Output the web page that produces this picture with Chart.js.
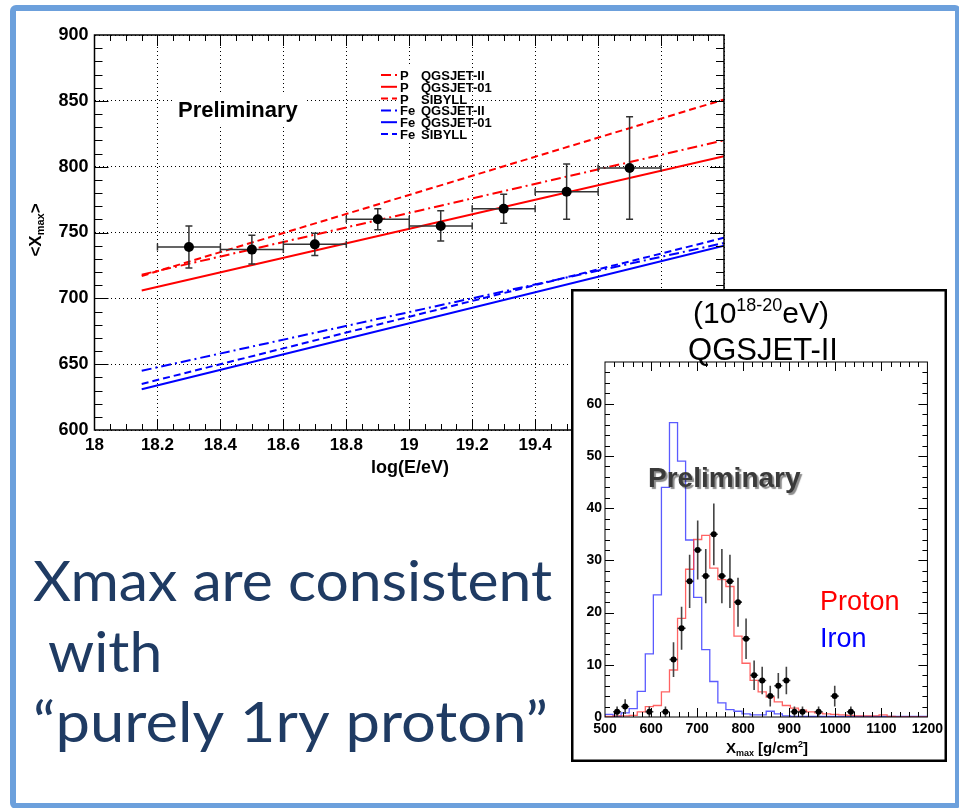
<!DOCTYPE html>
<html>
<head>
<meta charset="utf-8">
<title>Xmax</title>
<script src="https://cdn.jsdelivr.net/npm/chart.js@4.4.1/dist/chart.umd.min.js"></script>
<style>
  html, body { margin: 0; padding: 0; background: #fff; }
  #slide { position: relative; width: 959px; height: 808px; overflow: hidden; background: #fff; }
  #slide-border { position: absolute; left: 10px; top: 5px; width: 939px; height: 792px;
                  border: 6px solid #6ca0dc; border-radius: 6px; }
  canvas { position: absolute; }
  #xmax-trend { left: 0; top: 0; }
  #xmax-caption { left: 0; top: 530px; }
  #xmax-hist { left: 571px; top: 289px; background: #fff; }
  #hist-under { position: absolute; left: 677px; top: 760px; width: 207px; height: 2px; background: #444; }
</style>
</head>
<body>
<div id="slide">
  <canvas id="xmax-trend" width="959" height="808"></canvas>
  <canvas id="xmax-caption" width="575" height="250"></canvas>
  <div id="hist-under"></div>
  <canvas id="xmax-hist" width="376" height="473"></canvas>
  <div id="slide-border"></div>
</div>
<script>
(function () {
    'use strict';

    // <Xmax> per energy bin
    var energyBins = [18.3, 18.5, 18.7, 18.9, 19.1, 19.3, 19.5, 19.7];
    var energyHalfWidth = [0.1, 0.1, 0.1, 0.1, 0.1, 0.1, 0.1, 0.1];
    var meanXmax = [739, 737, 741, 760, 755, 768, 781, 799];
    var meanXmaxErr = [16, 11, 8.5, 8, 11.5, 11, 21, 39];

    // model expectations (end points of each line)
    var modelEnergy = [18.15, 20];
    var pQgsjet2 = [718, 820];
    var pQgsjet01 = [706, 808];
    var pSibyll = [717, 851];
    var feQgsjet2 = [645, 742];
    var feQgsjet01 = [631, 740];
    var feSibyll = [635, 746];

    var energyTicks = [18, 18.2, 18.4, 18.6, 18.8, 19, 19.2, 19.4, 19.6, 19.8, 20];
    var xmaxTicks = [600, 650, 700, 750, 800, 850, 900];

    // Xmax distribution, 40 bins from 500 to 1200 g/cm2
    var histLow = 500;
    var histBinWidth = 17.5;
    var protonHist = [0.1, 0.1, 0.2, 0.2, 0.3, 1.0, 2.0, 2.2, 4.8, 9.0,
                      18.9, 28.3, 34.0, 34.8, 28.5, 26.3, 25.0, 15.5, 10.3, 7.0,
                      4.8, 3.8, 2.9, 2.2, 1.7, 1.3, 1.0, 0.8, 0.6, 0.5,
                      0.4, 0.3, 0.2, 0.2, 0.2, 0.4, 0.1, 0, 0, 0];
    var ironHist = [0.5, 0.5, 0.1, 0.8, 1.6, 4.9, 12.1, 23.4, 44.0, 56.4,
                    49.0, 33.9, 22.9, 12.9, 6.8, 2.7, 1.4, 1.1, 0.6, 0.4,
                    0.4, 1.1, 0.6, 0.2, 0.1, 0.1, 0.1, 0.1, 0.1, 0.1,
                    0.1, 0.1, 0.1, 0.1, 0.1, 0.1, 0.1, 0.1, 0.1, 0.1];
    var eventCounts = [0, 1, 2, 0, 0, 1, 0, 1, 11, 17,
                       26, 32, 27, 35, 27, 26, 22, 15, 8, 7,
                       4, 6, 7, 1, 1, 0, 1, 0, 4, 0,
                       1, 0, 0, 0, 0, 0, 0, 0, 0, 0];
    var histTicksX = [500, 600, 700, 800, 900, 1000, 1100, 1200];
    var histTicksY = [0, 10, 20, 30, 40, 50, 60];

    var captionLines = ['Xmax are consistent', ' with', '\u201Cpurely 1ry proton\u201D'];

    var FONT = '"Liberation Sans", Arial, Helvetica, sans-serif';
    var DASH_DOT = [10, 4, 2, 4];
    var DASHED = [7, 4];

    function isMultiple(v, step) {
        var r = v / step;
        return Math.abs(r - Math.round(r)) < 1e-6;
    }

    function points(xs, ys) {
        return xs.map(function (x, i) { return { x: x, y: ys[i] }; });
    }

    // outline of a histogram, one point per bin edge
    function stepPoints(counts) {
        var pts = [{ x: histLow, y: 0 }];
        counts.forEach(function (c, i) {
            pts.push({ x: histLow + i * histBinWidth, y: c });
        });
        pts.push({ x: histLow + counts.length * histBinWidth, y: counts[counts.length - 1] });
        return pts;
    }

    function fixedTicks(values) {
        return function (scale) {
            scale.ticks = values.map(function (v) { return { value: v }; });
        };
    }

    // text with sub/superscript pieces
    function drawRich(ctx, parts, x, y, align, bold) {
        var total = 0;
        parts.forEach(function (p) {
            ctx.font = (bold ? 'bold ' : '') + p.size + 'px ' + FONT;
            p.w = ctx.measureText(p.text).width;
            total += p.w;
        });
        var cx = align === 'center' ? x - total / 2 : x;
        ctx.textAlign = 'left';
        ctx.textBaseline = 'alphabetic';
        parts.forEach(function (p) {
            ctx.font = (bold ? 'bold ' : '') + p.size + 'px ' + FONT;
            ctx.fillText(p.text, cx, y + (p.dy || 0));
            cx += p.w;
        });
    }

    // ROOT style frame: box plus inward ticks on all four sides
    function framePlugin(cfg) {
        return {
            id: 'rootFrame',
            afterDatasetsDraw: function (chart) {
                var ctx = chart.ctx, a = chart.chartArea;
                var xs = chart.scales.x, ys = chart.scales.y;
                var i, n, v, p, len;
                ctx.save();
                ctx.strokeStyle = '#000';
                ctx.lineWidth = 1;
                ctx.setLineDash([]);
                ctx.beginPath();
                n = Math.round((xs.max - xs.min) / cfg.xMinor);
                for (i = 1; i < n; i++) {
                    v = xs.min + i * cfg.xMinor;
                    p = Math.round(xs.getPixelForValue(v)) + 0.5;
                    len = isMultiple(v, cfg.xMajor) ? cfg.xMajorLen : cfg.xMinorLen;
                    ctx.moveTo(p, a.bottom);
                    ctx.lineTo(p, a.bottom - len);
                    ctx.moveTo(p, a.top);
                    ctx.lineTo(p, a.top + len);
                }
                n = Math.round((ys.max - ys.min) / cfg.yMinor);
                for (i = 1; i < n; i++) {
                    v = ys.min + i * cfg.yMinor;
                    p = Math.round(ys.getPixelForValue(v)) + 0.5;
                    len = isMultiple(v, cfg.yMajor) ? cfg.yMajorLen : cfg.yMinorLen;
                    ctx.moveTo(a.left, p);
                    ctx.lineTo(a.left + len, p);
                    ctx.moveTo(a.right, p);
                    ctx.lineTo(a.right - len, p);
                }
                ctx.stroke();
                ctx.lineWidth = cfg.frameWidth;
                ctx.strokeRect(a.left, a.top, a.right - a.left, a.bottom - a.top);
                ctx.restore();
            }
        };
    }

    function drawErrorBars(chart, xs, ys, xErr, yErr, style) {
        var ctx = chart.ctx;
        var sx = chart.scales.x, sy = chart.scales.y;
        ctx.save();
        ctx.strokeStyle = style.color;
        ctx.lineWidth = style.width;
        ctx.beginPath();
        xs.forEach(function (x, i) {
            var px = sx.getPixelForValue(x);
            var py = sy.getPixelForValue(ys[i]);
            var x0 = sx.getPixelForValue(x - xErr[i]);
            var x1 = sx.getPixelForValue(x + xErr[i]);
            var y0 = sy.getPixelForValue(ys[i] - yErr[i]);
            var y1 = sy.getPixelForValue(ys[i] + yErr[i]);
            ctx.moveTo(x0, py);
            ctx.lineTo(x1, py);
            ctx.moveTo(px, y0);
            ctx.lineTo(px, y1);
            if (style.cap) {
                ctx.moveTo(x0, py - style.cap);
                ctx.lineTo(x0, py + style.cap);
                ctx.moveTo(x1, py - style.cap);
                ctx.lineTo(x1, py + style.cap);
                ctx.moveTo(px - style.cap, y0);
                ctx.lineTo(px + style.cap, y0);
                ctx.moveTo(px - style.cap, y1);
                ctx.lineTo(px + style.cap, y1);
            }
        });
        ctx.stroke();
        ctx.restore();
    }

    /**
     * <Xmax> versus log(E/eV) with model lines
     */
    function initTrendChart() {
        var ctx = document.getElementById('xmax-trend').getContext('2d');

        var decor = {
            id: 'trendDecor',
            beforeDatasetDraw: function (chart, args) {
                if (args.index !== 0) return;
                drawErrorBars(chart, energyBins, meanXmax, energyHalfWidth, meanXmaxErr,
                              { color: '#333', width: 1.5, cap: 3.5 });
            },
            afterDraw: function (chart) {
                var c = chart.ctx;
                c.save();

                // Preliminary tag on a white patch
                c.fillStyle = '#fff';
                c.fillRect(172, 95, 132, 30);
                c.fillStyle = '#000';
                c.font = 'bold 22px ' + FONT;
                c.textBaseline = 'alphabetic';
                c.fillText('Preliminary', 178, 117);

                // legend
                c.fillStyle = '#fff';
                c.fillRect(398, 67, 72, 74);
                chart.data.datasets.forEach(function (ds, i) {
                    if (i === 0) return;
                    var y = 75 + (i - 1) * 11.8;
                    var words = ds.label.split(' ');
                    c.strokeStyle = ds.borderColor;
                    c.lineWidth = 2;
                    c.setLineDash(ds.borderDash || []);
                    c.beginPath();
                    c.moveTo(381, y);
                    c.lineTo(397, y);
                    c.stroke();
                    c.setLineDash([]);
                    c.fillStyle = '#000';
                    c.font = 'bold 13px ' + FONT;
                    c.textAlign = 'left';
                    c.fillText(words[0], 400, y + 5);
                    c.fillText(words[1], 421, y + 5);
                });

                // axis titles
                c.fillStyle = '#000';
                drawRich(c, [{ text: 'log(E/eV)', size: 18 }], 410, 473, 'center', true);
                c.translate(41, 230);
                c.rotate(-Math.PI / 2);
                drawRich(c, [
                    { text: '<X', size: 17 },
                    { text: 'max', size: 11, dy: 3 },
                    { text: '>', size: 17 }
                ], 0, 0, 'center', true);
                c.restore();
            }
        };

        new Chart(ctx, {
            type: 'line',
            data: {
                datasets: [
                    {
                        label: 'data',
                        data: points(energyBins, meanXmax),
                        showLine: false,
                        pointRadius: 5,
                        pointBackgroundColor: '#000',
                        pointBorderColor: '#000',
                        pointBorderWidth: 0
                    },
                    { label: 'P QGSJET-II', data: points(modelEnergy, pQgsjet2), borderColor: '#ff0000', borderDash: DASH_DOT },
                    { label: 'P QGSJET-01', data: points(modelEnergy, pQgsjet01), borderColor: '#ff0000', borderDash: [] },
                    { label: 'P SIBYLL', data: points(modelEnergy, pSibyll), borderColor: '#ff0000', borderDash: DASHED },
                    { label: 'Fe QGSJET-II', data: points(modelEnergy, feQgsjet2), borderColor: '#0000ff', borderDash: DASH_DOT },
                    { label: 'Fe QGSJET-01', data: points(modelEnergy, feQgsjet01), borderColor: '#0000ff', borderDash: [] },
                    { label: 'Fe SIBYLL', data: points(modelEnergy, feSibyll), borderColor: '#0000ff', borderDash: DASHED }
                ]
            },
            options: {
                responsive: false,
                animation: false,
                events: [],
                datasets: {
                    line: { borderWidth: 2, pointRadius: 0, tension: 0, fill: false }
                },
                layout: { padding: { left: 0, top: 35, right: 235, bottom: 348 } },
                plugins: { legend: { display: false }, tooltip: { enabled: false } },
                scales: {
                    x: {
                        type: 'linear',
                        min: 18,
                        max: 20,
                        afterBuildTicks: fixedTicks(energyTicks),
                        afterFit: function (scale) { scale.height = 30; },
                        grid: { color: '#000', lineWidth: 1, drawTicks: false },
                        border: { display: false, dash: [1, 3] },
                        ticks: {
                            color: '#000',
                            padding: 5,
                            autoSkip: false,
                            maxRotation: 0,
                            font: { family: FONT, size: 17, weight: 'bold' },
                            callback: function (v) { return String(v); }
                        }
                    },
                    y: {
                        type: 'linear',
                        min: 600,
                        max: 900,
                        afterBuildTicks: fixedTicks(xmaxTicks),
                        afterFit: function (scale) { scale.width = 94.5; },
                        grid: { color: '#000', lineWidth: 1, drawTicks: false },
                        border: { display: false, dash: [1, 3] },
                        ticks: {
                            color: '#000',
                            padding: 6,
                            autoSkip: false,
                            font: { family: FONT, size: 18, weight: 'bold' },
                            callback: function (v) { return String(v); }
                        }
                    }
                }
            },
            plugins: [framePlugin({
                xMinor: 0.05, xMajor: 0.2, xMajorLen: 11, xMinorLen: 6,
                yMinor: 10, yMajor: 50, yMajorLen: 14, yMinorLen: 8,
                frameWidth: 1.5
            }), decor]
        });
    }

    /**
     * Xmax distribution with proton / iron expectations
     */
    function initHistChart() {
        var ctx = document.getElementById('xmax-hist').getContext('2d');

        var filledX = [], filledY = [], filledXErr = [], filledYErr = [];
        eventCounts.forEach(function (n, i) {
            if (n <= 0) return;
            filledX.push(histLow + (i + 0.5) * histBinWidth);
            filledY.push(n);
            filledXErr.push(histBinWidth / 2);
            filledYErr.push(Math.sqrt(n));
        });

        var decor = {
            id: 'histDecor',
            beforeDraw: function (chart) {
                var c = chart.ctx;
                c.save();
                c.fillStyle = '#fff';
                c.fillRect(0, 0, chart.width, chart.height);
                c.strokeStyle = '#000';
                c.lineWidth = 2.5;
                c.strokeRect(1.25, 1.25, chart.width - 2.5, chart.height - 2.5);
                c.restore();
            },
            beforeDatasetDraw: function (chart, args) {
                if (args.index !== 0) return;
                drawErrorBars(chart, filledX, filledY, filledXErr, filledYErr,
                              { color: '#444', width: 1.6, cap: 0 });
            },
            afterDraw: function (chart) {
                var c = chart.ctx;
                c.save();
                c.fillStyle = '#000';
                drawRich(c, [
                    { text: '(10', size: 30 },
                    { text: '18-20', size: 18, dy: -12 },
                    { text: 'eV)', size: 30 }
                ], 190, 34, 'center', false);
                drawRich(c, [{ text: 'QGSJET-II', size: 31 }], 192, 71, 'center', false);

                // Preliminary stamp
                c.shadowColor = 'rgba(0,0,0,0.45)';
                c.shadowOffsetX = 2;
                c.shadowOffsetY = 2;
                c.shadowBlur = 1;
                c.fillStyle = '#3a3a3a';
                c.font = 'bold 28px ' + FONT;
                c.fillText('Preliminary', 77, 198);
                c.shadowColor = 'transparent';

                c.font = '27px ' + FONT;
                c.fillStyle = '#ff0000';
                c.fillText('Proton', 249, 321);
                c.fillStyle = '#0000ff';
                c.fillText('Iron', 249, 358);

                c.fillStyle = '#000';
                drawRich(c, [
                    { text: 'X', size: 15 },
                    { text: 'max', size: 9, dy: 3 },
                    { text: ' [g/cm', size: 15 },
                    { text: '2', size: 9, dy: -6 },
                    { text: ']', size: 15 }
                ], 196, 464, 'center', true);
                c.restore();
            }
        };

        new Chart(ctx, {
            type: 'line',
            data: {
                datasets: [
                    {
                        label: 'data',
                        data: points(filledX, filledY),
                        showLine: false,
                        pointRadius: 3,
                        pointBackgroundColor: '#000',
                        pointBorderColor: '#000',
                        pointBorderWidth: 0
                    },
                    { label: 'Proton', data: stepPoints(protonHist), borderColor: 'rgba(255,60,60,0.8)' },
                    { label: 'Iron', data: stepPoints(ironHist), borderColor: 'rgba(50,50,255,0.8)' }
                ]
            },
            options: {
                responsive: false,
                animation: false,
                events: [],
                datasets: {
                    line: { borderWidth: 1.3, pointRadius: 0, stepped: 'after', fill: false }
                },
                layout: { padding: { left: 0, top: 73, right: 18, bottom: 25 } },
                plugins: { legend: { display: false }, tooltip: { enabled: false } },
                scales: {
                    x: {
                        type: 'linear',
                        min: 500,
                        max: 1200,
                        afterBuildTicks: fixedTicks(histTicksX),
                        afterFit: function (scale) { scale.height = 20; },
                        grid: { display: false, drawTicks: false },
                        border: { display: false },
                        ticks: {
                            color: '#000',
                            padding: 4,
                            autoSkip: false,
                            maxRotation: 0,
                            font: { family: FONT, size: 14, weight: 'bold' },
                            callback: function (v) { return String(v); }
                        }
                    },
                    y: {
                        type: 'linear',
                        min: 0,
                        max: 68,
                        afterBuildTicks: fixedTicks(histTicksY),
                        afterFit: function (scale) { scale.width = 34; },
                        grid: { display: false, drawTicks: false },
                        border: { display: false },
                        ticks: {
                            color: '#000',
                            padding: 3,
                            autoSkip: false,
                            font: { family: FONT, size: 14, weight: 'bold' },
                            callback: function (v) { return String(v); }
                        }
                    }
                }
            },
            plugins: [framePlugin({
                xMinor: 20, xMajor: 100, xMajorLen: 9, xMinorLen: 5,
                yMinor: 2, yMajor: 10, yMajorLen: 9, yMinorLen: 5,
                frameWidth: 1
            }), decor]
        });
    }

    /**
     * Slide caption under the plot
     */
    function drawCaption() {
        var c = document.getElementById('xmax-caption').getContext('2d');
        var baselines = [71, 142, 212];
        var widths = [519, 0, 515];
        c.fillStyle = '#1f3b63';
        c.font = '56px Lato, "Open Sans", sans-serif';
        c.textBaseline = 'alphabetic';
        var baseScale = widths[0] / c.measureText(captionLines[0]).width;
        captionLines.forEach(function (line, i) {
            var sx = widths[i] ? widths[i] / c.measureText(line).width : baseScale;
            c.save();
            c.translate(33, baselines[i]);
            c.scale(sx, 1);
            c.fillText(line, 0, 0);
            c.restore();
        });
    }

    initTrendChart();
    initHistChart();
    drawCaption();
})();
</script>
</body>
</html>
